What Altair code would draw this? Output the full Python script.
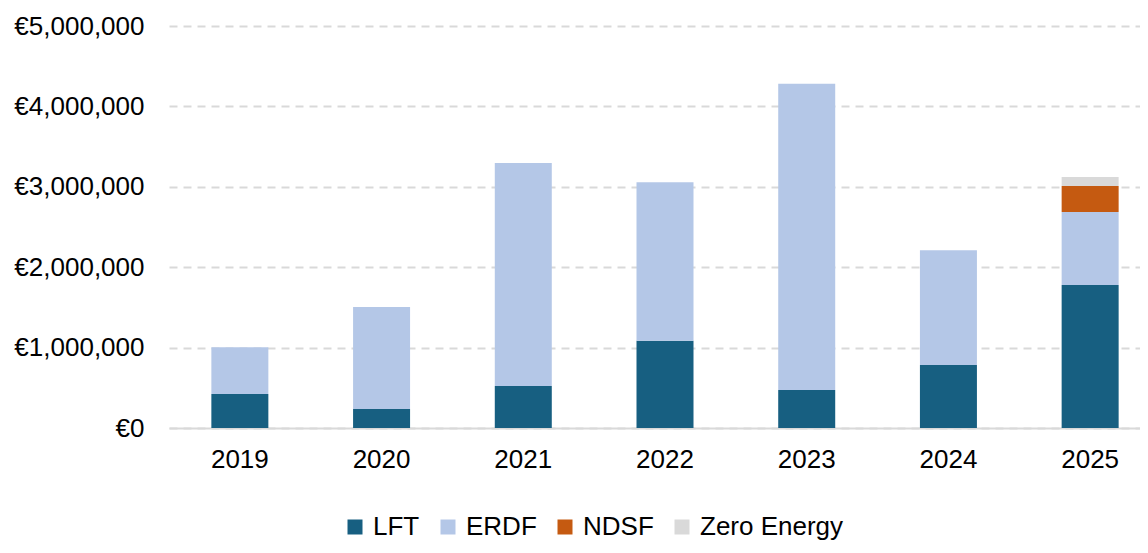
import altair as alt
import pandas as pd

years = ["2019", "2020", "2021", "2022", "2023", "2024", "2025"]
lft = [423000, 236000, 522000, 1085000, 473000, 784000, 1779000]
erdf = [581000, 1269000, 2774000, 1971000, 3809000, 1426000, 908000]
ndsf = [0, 0, 0, 0, 0, 0, 323000]
zero = [0, 0, 0, 0, 0, 0, 112000]

series = ["LFT", "ERDF", "NDSF", "Zero Energy"]
colors = ["#175F81", "#B4C7E7", "#C55A11", "#D9D9D9"]

rows = []
for i, y in enumerate(years):
    for k, (name, vals) in enumerate(zip(series, [lft, erdf, ndsf, zero])):
        rows.append({"Year": y, "Fund": name, "Value": vals[i], "ord": k})
df = pd.DataFrame(rows)

font = "Liberation Sans"

chart = alt.Chart(df).mark_bar(size=57).encode(
    x=alt.X("Year:N", sort=years, title=None,
            scale=alt.Scale(paddingInner=0.6, paddingOuter=0.3, range=[0, 992]),
            axis=alt.Axis(labelAngle=0, ticks=False, domain=True, domainColor="#D9D9D9",
                          domainWidth=2, labelPadding=18, labelFontSize=26, labelFont=font,
                          labelColor="#000000", grid=False)),
    y=alt.Y("Value:Q", stack="zero", title=None,
            scale=alt.Scale(domain=[0, 5000000], nice=False),
            axis=alt.Axis(values=[0, 1000000, 2000000, 3000000, 4000000, 5000000],
                          labelExpr="'€' + format(datum.value, ',')",
                          domain=False, ticks=False, labelPadding=25, labelFontSize=26,
                          labelFont=font, labelColor="#000000",
                          grid=True, gridColor="#D9D9D9", gridDash=[8, 6], gridWidth=2)),
    color=alt.Color("Fund:N", sort=series,
                    scale=alt.Scale(domain=series, range=colors),
                    legend=alt.Legend(title=None, orient="none", direction="horizontal",
                                      legendX=173, legendY=488, padding=0,
                                      symbolType="square", symbolSize=225, symbolStrokeWidth=0,
                                      labelFontSize=26, labelFont=font, labelColor="#000000",
                                      columnPadding=15, labelOffset=5)),
    order=alt.Order("ord:Q", sort="ascending"),
).properties(
    width=971, height=402,
    autosize=alt.AutoSizeParams(type="none"),
    padding={"left": 161, "top": 18, "right": 0, "bottom": 117},
).configure_view(stroke=None)

chart.save("out.html", embed_options={"renderer": "svg", "actions": False})
